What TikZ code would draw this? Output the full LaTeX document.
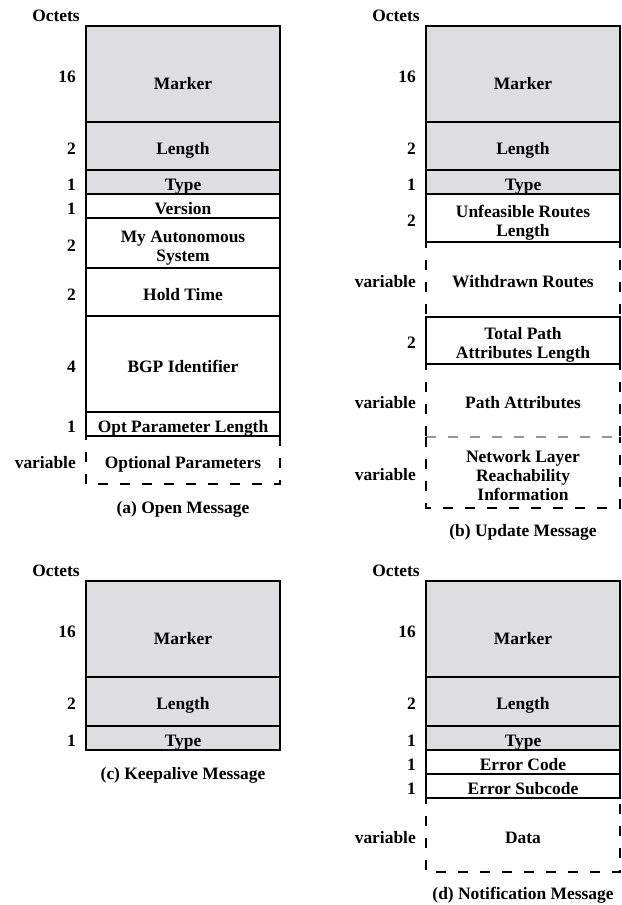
\documentclass[tikz,border=0pt]{standalone}
\usepackage{fontspec}
\setmainfont{Liberation Serif}
\definecolor{hdr}{RGB}{222,222,224}
\definecolor{dgray}{RGB}{150,150,150}
\begin{document}
\begin{tikzpicture}[x=1bp,y=-1bp,
  font=\fontsize{17.5}{19}\selectfont\bfseries,
  sl/.style={text height=16.6bp, text depth=0pt},
  twol/.style={text height=36.6bp, text depth=0pt},
  threel/.style={text height=56.6bp, text depth=0pt},
  fld/.style={draw, line width=2bp, minimum width=194bp, inner sep=0pt, outer sep=0pt, anchor=north west, align=center, sl},
  hfld/.style={fld, fill=hdr},
  vfld/.style={minimum width=194bp, inner sep=0pt, outer sep=0pt, anchor=north west, align=center, sl},
  mrk/.style={hfld, minimum height=96bp, text height=30bp, text depth=0pt},
  num/.style={anchor=east, inner sep=0pt, xshift=-10bp, sl},
  octs/.style={inner sep=0pt, xshift=-30bp, yshift=10bp},
  capt/.style={inner sep=0pt, yshift=-25bp},
  dsh/.style={line width=2bp, dash pattern=on 10bp off 12bp},
]
\useasboundingbox (0,0) rectangle (622,905);

% ---------- (a) Open Message ----------
\node[mrk] (aM) at (86,26) {Marker};
\node[hfld, minimum height=48bp] (aL) at (86,122) {Length};
\node[hfld, minimum height=24bp] (aT) at (86,170) {Type};
\node[fld, minimum height=24bp] (aV) at (86,194) {Version};
\node[fld, minimum height=50bp, twol] (aA) at (86,218) {My Autonomous\\System};
\node[fld, minimum height=48bp] (aH) at (86,268) {Hold Time};
\node[fld, minimum height=96bp] (aB) at (86,316) {BGP Identifier};
\node[fld, minimum height=24bp] (aO) at (86,412) {Opt Parameter Length};
\node[vfld, minimum height=48bp] (aP) at (86,436) {Optional Parameters};
\draw[dsh, dash phase=6bp] (aP.north west) -- (aP.south west) -- (aP.south east) -- (aP.north east);

\node[octs] (aOct) at (aM.north west) {Octets};
\node[num] (an1) at (aM.west) {16};
\node[num] (an2) at (aL.west) {2};
\node[num] (an3) at (aT.west) {1};
\node[num] (an4) at (aV.west) {1};
\node[num] (an5) at (aA.west) {2};
\node[num] (an6) at (aH.west) {2};
\node[num] (an7) at (aB.west) {4};
\node[num] (an8) at (aO.west) {1};
\node[num] (an9) at (aP.west) {variable};
\node[capt] (acap) at (aP.south) {(a) Open Message};

% ---------- (b) Update Message ----------
\node[mrk] (bM) at (426,26) {Marker};
\node[hfld, minimum height=48bp] (bL) at (426,122) {Length};
\node[hfld, minimum height=24bp] (bT) at (426,170) {Type};
\node[fld, minimum height=48bp, twol] (bU) at (426,194) {Unfeasible Routes\\Length};
\node[vfld, minimum height=75bp] (bW) at (426,242) {Withdrawn Routes};
\node[fld, minimum height=47bp, twol] (bP) at (426,317) {Total Path\\Attributes Length};
\node[vfld, minimum height=73bp] (bA) at (426,364) {Path Attributes};
\node[vfld, minimum height=71bp, threel] (bN) at (426,437) {Network Layer\\Reachability\\Information};
\draw[dsh, dash phase=4bp] (bW.north west) -- (bW.south west);
\draw[dsh, dash phase=4bp] (bW.north east) -- (bW.south east);
\draw[dsh, dash phase=4bp] (bA.north west) -- (bA.south west);
\draw[dsh, dash phase=4bp] (bA.north east) -- (bA.south east);
\draw[dsh, dgray] (bN.north west) -- (bN.north east);
\draw[dsh] (bN.north west) -- (bN.south west) -- (bN.south east) -- (bN.north east);

\node[octs] (bOct) at (bM.north west) {Octets};
\node[num] (bn1) at (bM.west) {16};
\node[num] (bn2) at (bL.west) {2};
\node[num] (bn3) at (bT.west) {1};
\node[num] (bn4) at (bU.west) {2};
\node[num] (bn5) at (bW.west) {variable};
\node[num] (bn6) at (bP.west) {2};
\node[num] (bn7) at (bA.west) {variable};
\node[num] (bn8) at (bN.west) {variable};
\node[capt, yshift=1bp] (bcap) at (bN.south) {(b) Update Message};

% ---------- (c) Keepalive Message ----------
\node[mrk] (cM) at (86,581) {Marker};
\node[hfld, minimum height=49bp] (cL) at (86,677) {Length};
\node[hfld, minimum height=24bp] (cT) at (86,726) {Type};

\node[octs] (cOct) at (cM.north west) {Octets};
\node[num] (cn1) at (cM.west) {16};
\node[num] (cn2) at (cL.west) {2};
\node[num] (cn3) at (cT.west) {1};
\node[capt] (ccap) at (cT.south) {(c) Keepalive Message};

% ---------- (d) Notification Message ----------
\node[mrk] (dM) at (426,581) {Marker};
\node[hfld, minimum height=49bp] (dL) at (426,677) {Length};
\node[hfld, minimum height=24bp] (dT) at (426,726) {Type};
\node[fld, minimum height=24bp] (dE) at (426,750) {Error Code};
\node[fld, minimum height=24bp] (dS) at (426,774) {Error Subcode};
\node[vfld, minimum height=74bp] (dD) at (426,798) {Data};
\draw[dsh, dash phase=4bp] (dD.north west) -- (dD.south west) -- (dD.south east) -- (dD.north east);

\node[octs] (dOct) at (dM.north west) {Octets};
\node[num] (dn1) at (dM.west) {16};
\node[num] (dn2) at (dL.west) {2};
\node[num] (dn3) at (dT.west) {1};
\node[num] (dn4) at (dE.west) {1};
\node[num] (dn5) at (dS.west) {1};
\node[num] (dn6) at (dD.west) {variable};
\node[capt, yshift=2bp] (dcap) at (dD.south) {(d) Notification Message};
\end{tikzpicture}
\end{document}
